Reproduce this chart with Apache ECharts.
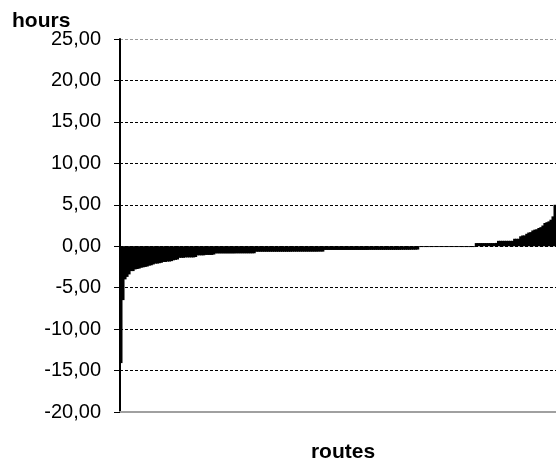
<!DOCTYPE html>
<html>
<head>
<meta charset="utf-8">
<script src="https://cdn.jsdelivr.net/npm/echarts@6/dist/echarts.min.js"></script>
<style>
  html, body { margin: 0; padding: 0; background: #fff; }
  #chart { width: 556px; height: 462px; }
</style>
</head>
<body>
<div id="chart"></div>
<script>
// Time difference per route (hours), routes ordered from largest loss to largest gain
const deltaHours = [
  -14.1, -6.5, -4.0, -3.7, -3.4, -3.0, -3.0, -2.8, -2.75, -2.7,
  -2.6, -2.55, -2.5, -2.45, -2.35, -2.3, -2.2, -2.1, -2.1, -2.05,
  -2.0, -1.9, -1.9, -1.85, -1.85, -1.8, -1.7, -1.65, -1.6, -1.4,
  -1.4, -1.4, -1.35, -1.35, -1.35, -1.35, -1.35, -1.3, -1.1, -1.1,
  -1.1, -1.1, -1.05, -1.05, -1.05, -1.05, -1.0, -0.87, -0.87, -0.87,
  -0.87, -0.87, -0.87, -0.87, -0.87, -0.87, -0.87, -0.86, -0.86, -0.86,
  -0.86, -0.86, -0.86, -0.86, -0.86, -0.86, -0.85, -0.67, -0.67, -0.67,
  -0.67, -0.67, -0.67, -0.67, -0.67, -0.67, -0.67, -0.67, -0.67, -0.67,
  -0.67, -0.67, -0.67, -0.67, -0.67, -0.66, -0.66, -0.66, -0.66, -0.66,
  -0.66, -0.66, -0.66, -0.66, -0.66, -0.66, -0.66, -0.66, -0.65, -0.65,
  -0.65, -0.45, -0.45, -0.45, -0.45, -0.45, -0.45, -0.45, -0.45, -0.45,
  -0.45, -0.45, -0.45, -0.45, -0.45, -0.45, -0.45, -0.45, -0.45, -0.45,
  -0.45, -0.45, -0.45, -0.44, -0.44, -0.44, -0.44, -0.44, -0.44, -0.44,
  -0.44, -0.44, -0.44, -0.44, -0.44, -0.44, -0.44, -0.44, -0.44, -0.43,
  -0.43, -0.43, -0.43, -0.43, -0.42, -0.42, -0.42, -0.40, -0.1, -0.1,
  -0.1, -0.1, -0.1, -0.1, -0.1, -0.1, -0.1, -0.1, -0.1, -0.1,
  -0.1, -0.1, -0.1, -0.1, -0.1, -0.1, -0.1, -0.1, -0.1, -0.1,
  -0.1, -0.1, -0.1, -0.1, -0.1, -0.1, 0.38, 0.38, 0.38, 0.38,
  0.38, 0.38, 0.38, 0.38, 0.38, 0.38, 0.40, 0.65, 0.65, 0.65,
  0.65, 0.65, 0.65, 0.65, 0.65, 0.9, 0.9, 0.9, 1.2, 1.3,
  1.3, 1.5, 1.65, 1.7, 1.9, 2.0, 2.05, 2.2, 2.3, 2.5,
  2.8, 2.9, 3.0, 3.2, 3.6, 5.0
];
const routeIds = deltaHours.map((_, i) => 'R' + (i + 1));

// Value axis scale
const yMin = -20;
const yMax = 25;
const yStep = 5;

const yTitle = 'hours';
const xTitle = 'routes';

const chart = echarts.init(document.getElementById('chart'), null, { renderer: 'canvas' });

// top gridline is grey, the rest black
const gridLineColors = [];
for (let v = yMin; v <= yMax; v += yStep) {
  gridLineColors.push(v === yMax ? '#9a9a9a' : '#000000');
}

chart.setOption({
  animation: false,
  backgroundColor: '#ffffff',
  grid: { left: 120, right: 0, top: 39, bottom: 50, containLabel: false },
  xAxis: {
    type: 'category',
    data: routeIds,
    boundaryGap: true,
    axisLine: { onZero: false, lineStyle: { color: '#a0a0a0', width: 2 } },
    axisTick: { show: false },
    axisLabel: { show: false },
    splitLine: { show: false }
  },
  yAxis: {
    type: 'value',
    min: yMin,
    max: yMax,
    interval: yStep,
    axisLine: { show: true, lineStyle: { color: '#000', width: 2 } },
    axisTick: { show: true, inside: false, length: 6, lineStyle: { color: '#000', width: 1 } },
    axisLabel: {
      margin: 19,
      color: '#000',
      fontFamily: 'Liberation Sans, Arial, sans-serif',
      fontSize: 20,
      formatter: v => v.toFixed(2).replace('.', ',')
    },
    splitLine: {
      show: true,
      lineStyle: { color: gridLineColors, width: 1, type: [3, 2] }
    }
  },
  series: [{
    type: 'bar',
    data: deltaHours,
    // neighbouring bars overlap slightly so the columns read as one solid profile
    barWidth: 3,
    barGap: '-100%',
    itemStyle: { color: '#000', borderWidth: 0 },
    emphasis: { disabled: true }
  }],
  graphic: [
    {
      type: 'text',
      left: 12,
      top: 11,
      style: {
        text: yTitle,
        font: 'bold 21px Liberation Sans, Arial, sans-serif',
        fill: '#000'
      }
    },
    {
      type: 'text',
      x: 343,
      y: 452,
      style: {
        text: xTitle,
        font: 'bold 21px Liberation Sans, Arial, sans-serif',
        fill: '#000',
        align: 'center',
        verticalAlign: 'middle'
      }
    }
  ]
});
</script>
</body>
</html>
